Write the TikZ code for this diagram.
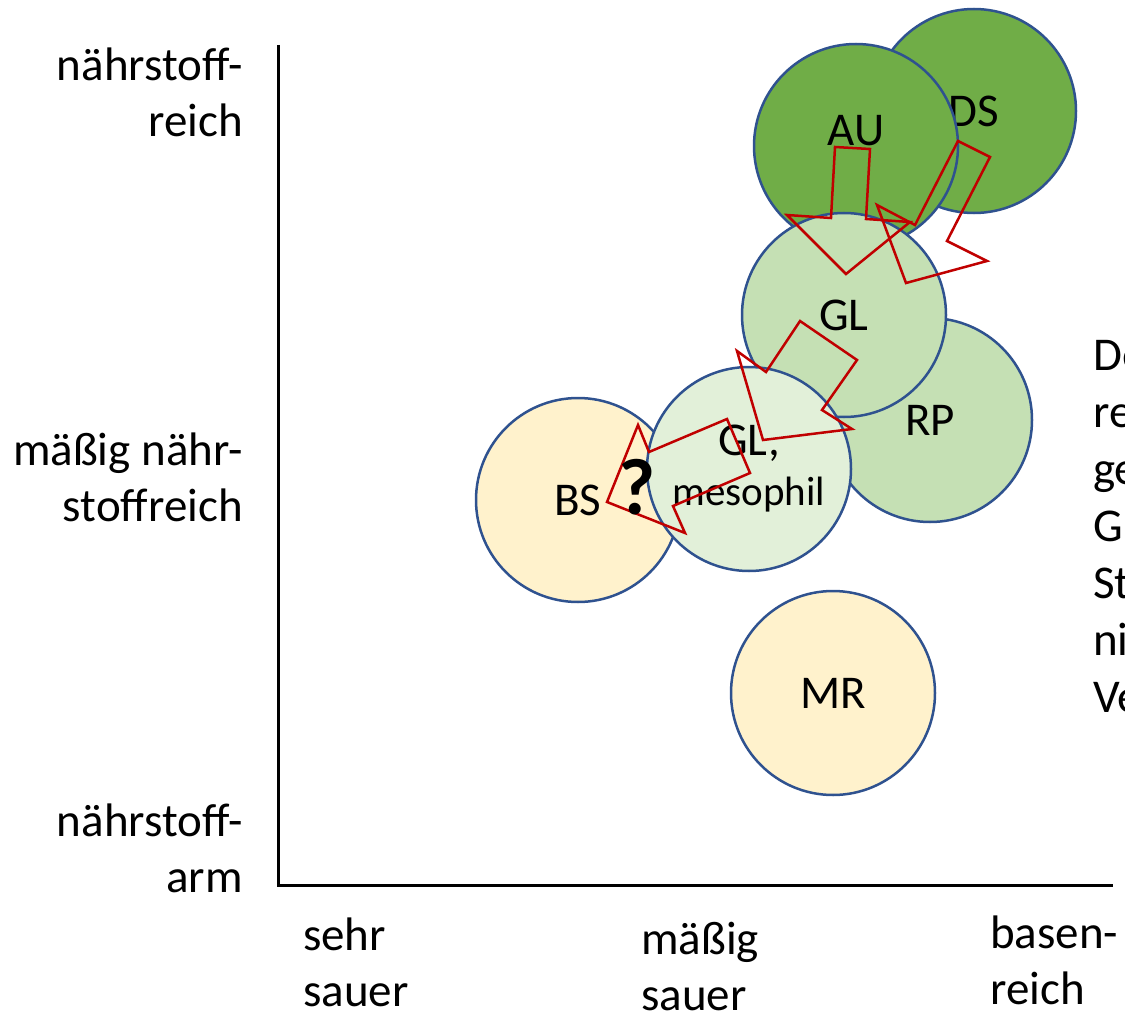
\documentclass[tikz,border=0pt]{standalone}
\usepackage{fontspec}
\setmainfont{Carlito}
\usepackage{tikz}
\usepackage{xcolor}

\definecolor{rimblue}{HTML}{2F528F}
\definecolor{darkgreen}{HTML}{70AD47}
\definecolor{midgreen}{HTML}{C5E0B4}
\definecolor{palegreen}{HTML}{E2F0D9}
\definecolor{paleyellow}{HTML}{FFF2CC}
\definecolor{arrowred}{HTML}{C00000}

\newcommand{\labfont}{\fontsize{47}{56}\selectfont}

\tikzset{
  zone/.style={circle, draw=rimblue, line width=2.5pt, inner sep=0pt, minimum size=204pt},
  ylab/.style={anchor=base east, align=right, inner sep=0pt},
  xlab/.style={anchor=base west, align=left, inner sep=0pt},
  axis/.style={line width=3pt, black},
  wander/.style={draw=arrowred, line width=2.5pt}
}

\begin{document}
\begin{tikzpicture}[x=1pt, y=-1pt, font=\labfont]
  \useasboundingbox (0,0) rectangle (1125,1014);
  \clip (0,0) rectangle (1125,1014);

  % axes
  \coordinate (ytop) at (278,45);
  \coordinate (origin) at (278,885);
  \coordinate (xend) at (1113,885);
  \draw[axis] (ytop) -- (origin) -- (xend);

  % nutrients (base = last line)
  \node[ylab] (rich) at (243,137) {nährstoff-\\reich};
  \node[ylab] (mid) at (243,521) {mäßig nähr-\\stoffreich};
  \node[ylab] (poor) at (243,892) {nährstoff-\\arm};

  % acidity
  \node[xlab] (acid) at (303,1006) {sehr\\sauer};
  \node[xlab] (modacid) at (641,1010) {mäßig\\sauer};
  \node[xlab] (basic) at (990,1004) {basen-\\reich};

  % site types
  \node[zone, fill=darkgreen] (ds) at (974,111) {DS};
  \node[zone, fill=darkgreen, label={[yshift=15pt]center:AU}] (au) at (856,146) {};
  \node[zone, fill=midgreen] (rp) at (930,420) {RP};
  \node[zone, fill=midgreen] (gl) at (844,315) {GL};
  \node[zone, fill=paleyellow] (bs) at (578,500) {BS};
  \node[zone, fill=palegreen, align=center] (glm) at (749,469) {GL,\\[-6pt]{\fontsize{41}{48}\selectfont mesophil}};
  \node[zone, fill=paleyellow] (mr) at (833,693) {MR};

  % shifts
  \draw[wander] (835,147) -- (870,149) -- (866,219) -- (910,222) -- (846,274) -- (787,215) -- (831,218) -- cycle;
  \draw[wander] (958,141) -- (990,157) -- (947,241) -- (987,261) -- (906,283) -- (877,205) -- (915,225) -- cycle;
  \draw[wander] (800,321) -- (857,360) -- (822,410) -- (852,429) -- (763,440) -- (737,351) -- (766,372) -- cycle;
  \draw[wander] (727,419) -- (750,473) -- (673,506) -- (685,533) -- (607,502) -- (638,425) -- (649,452) -- cycle;

  \node[font=\fontsize{80}{80}\selectfont\bfseries] (q) at (637,487) {?};

  % cut-off note
  \node[xlab, font=\fontsize{47}{57}\selectfont] (note) at (1093,712) {De\\re\\ge\\G\\St\\ni\\Ve};
\end{tikzpicture}
\end{document}
